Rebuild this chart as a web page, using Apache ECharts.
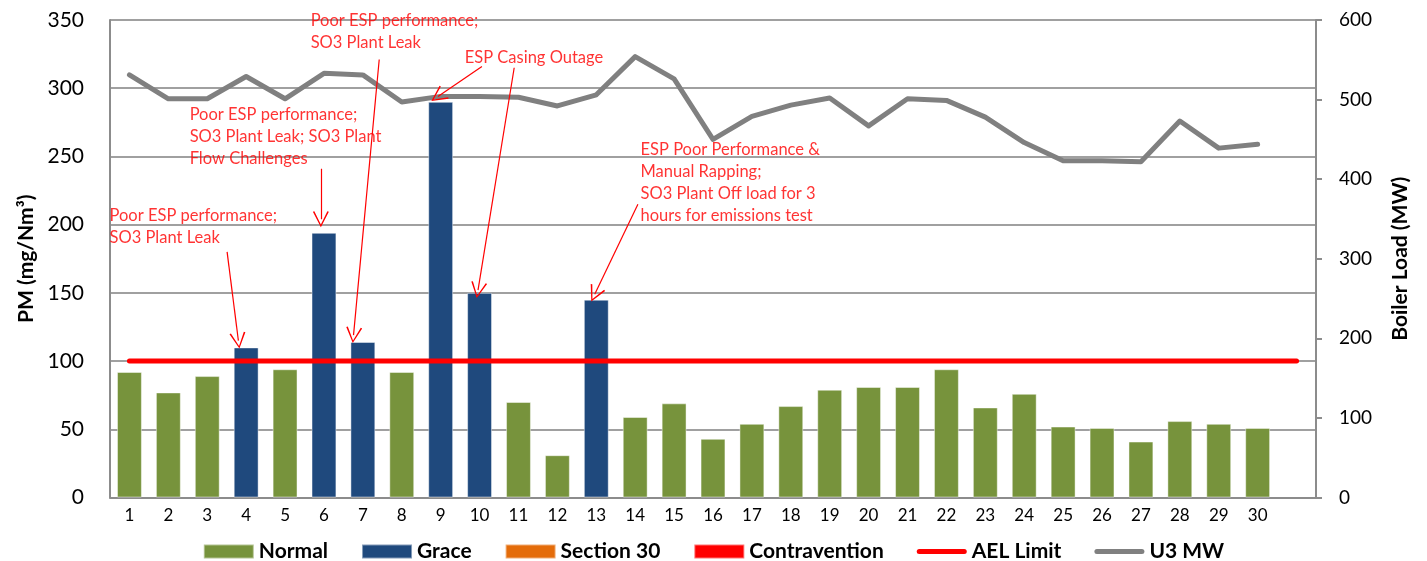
<!DOCTYPE html>
<html>
<head>
<meta charset="utf-8">
<script src="https://cdn.jsdelivr.net/npm/echarts@6/dist/echarts.min.js"></script>
<style>
  html, body { margin: 0; padding: 0; background: #fff; }
  #chart { width: 1427px; height: 561px; }
</style>
</head>
<body>
<div id="chart"></div>
<script>
// ---- data ----
const categories = ['1','2','3','4','5','6','7','8','9','10','11','12','13','14','15','16','17','18','19','20','21','22','23','24','25','26','27','28','29','30',''];
const normal =        [92, 77, 89, null, 94, null, null, 92, null, null, 70, 31, null, 59, 69, 43, 54, 67, 79, 81, 81, 94, 66, 76, 52, 51, 41, 56, 54, 51];
const grace =         [null, null, null, 110, null, 194, 114, null, 290, 150, null, null, 145, null, null, null, null, null, null, null, null, null, null, null, null, null, null, null, null, null];
const section30 =     [null, null, null, null, null, null, null, null, null, null, null, null, null, null, null, null, null, null, null, null, null, null, null, null, null, null, null, null, null, null];
const contravention = [null, null, null, null, null, null, null, null, null, null, null, null, null, null, null, null, null, null, null, null, null, null, null, null, null, null, null, null, null, null];
const aelLimit =      [100, 100, 100, 100, 100, 100, 100, 100, 100, 100, 100, 100, 100, 100, 100, 100, 100, 100, 100, 100, 100, 100, 100, 100, 100, 100, 100, 100, 100, 100, 100];
const u3MW =          [531, 501, 501, 529, 501, 533, 531, 497, 504, 504, 503, 492, 506, 554, 526, 450, 479, 493, 502, 467, 501, 499, 478, 446, 423, 423, 422, 473, 439, 444];

// annotation texts, anchored (top-left) at [day position, PM value]
const noteTexts = [
  'Poor ESP performance;\nSO3 Plant Leak',
  'Poor ESP performance;\nSO3 Plant Leak; SO3 Plant\nFlow Challenges',
  'Poor ESP performance;\nSO3 Plant Leak',
  'ESP Casing Outage',
  'ESP Poor Performance &\nManual Rapping;\nSO3 Plant Off load for 3\nhours for emissions test'
];
const noteAnchors = [[0.5, 214], [2.56, 288], [5.67, 357], [9.63, 330], [14.15, 263]];
// annotation arrows: [from, to] in [day position, PM value]
const arrowFrom = [[3.51, 180], [5.92, 241], [7.42, 321], [10.06, 316], [10.89, 315], [14.07, 215]];
const arrowTo   = [[3.80, 115], [5.92, 204], [6.76, 119], [8.93, 294], [9.96, 152], [12.96, 149]];

const FONT = 'Lato';
const chevron = 'path://M7,0 L14,15 L12.7,15.6 L7,2.6 L1.3,15.6 L0,15 Z';
const lineIcon = 'path://M2.5,0 L47.5,0 A2.5,2.5 0 0 1 47.5,5 L2.5,5 A2.5,2.5 0 0 1 2.5,0 Z';

const chart = echarts.init(document.getElementById('chart'), null, { renderer: 'canvas' });
const barCommon = {
  type: 'bar', stack: 'pm', barWidth: '64%',
  itemStyle: { borderColor: 'rgba(255,255,255,0.45)', borderWidth: 1 }
};
chart.setOption({
  animation: false,
  textStyle: { fontFamily: FONT },
  grid: { left: 110, right: 111, top: 20, bottom: 63.5, containLabel: false },
  legend: {
    left: 'center', top: 536,
    itemWidth: 50, itemHeight: 14, itemGap: 33,
    textStyle: { fontFamily: FONT, fontWeight: 'bold', fontSize: 21, color: '#000' },
    data: [
      { name: 'Normal', icon: 'rect' },
      { name: 'Grace', icon: 'rect' },
      { name: 'Section 30', icon: 'rect' },
      { name: 'Contravention', icon: 'rect' },
      { name: 'AEL Limit', icon: lineIcon },
      { name: 'U3 MW', icon: lineIcon }
    ]
  },
  xAxis: [
    {
      type: 'category', data: categories, boundaryGap: true,
      axisLine: { lineStyle: { color: '#8c8c8c', width: 2 } },
      axisTick: { alignWithLabel: true, length: 6, lineStyle: { color: '#8c8c8c', width: 2 } },
      axisLabel: { color: '#000', fontSize: 17, fontFamily: FONT, margin: 10, interval: 0 },
      splitLine: { show: false }
    },
    { type: 'value', min: 0.5, max: 31.5, show: false }
  ],
  yAxis: [
    {
      type: 'value', min: 0, max: 350, interval: 50, position: 'left',
      name: 'PM (mg/Nm³)', nameLocation: 'middle', nameRotate: 90, nameGap: 71,
      nameTextStyle: { fontFamily: FONT, fontWeight: 'bold', fontSize: 21, color: '#000' },
      axisLine: { show: true, lineStyle: { color: '#8c8c8c', width: 2 } },
      axisTick: { show: false },
      axisLabel: { color: '#000', fontSize: 21, fontFamily: FONT, margin: 26 },
      splitLine: { lineStyle: { color: '#a0a0a0', width: 2 } }
    },
    {
      type: 'value', min: 0, max: 600, interval: 100, position: 'right',
      name: 'Boiler Load (MW)', nameLocation: 'middle', nameRotate: 90, nameGap: 74,
      nameTextStyle: { fontFamily: FONT, fontWeight: 'bold', fontSize: 21, color: '#000' },
      axisLine: { show: true, lineStyle: { color: '#8c8c8c', width: 2 } },
      axisTick: { show: true, inside: false, length: 6, lineStyle: { color: '#8c8c8c', width: 2 } },
      axisLabel: { color: '#000', fontSize: 19, fontFamily: FONT, margin: 23 },
      splitLine: { show: false }
    }
  ],
  series: [
    Object.assign({}, barCommon, { name: 'Normal', data: normal, itemStyle: Object.assign({}, barCommon.itemStyle, { color: '#77933C' }) }),
    Object.assign({}, barCommon, { name: 'Grace', data: grace, itemStyle: Object.assign({}, barCommon.itemStyle, { color: '#1F497D' }) }),
    Object.assign({}, barCommon, { name: 'Section 30', data: section30, itemStyle: Object.assign({}, barCommon.itemStyle, { color: '#E46C0A' }) }),
    Object.assign({}, barCommon, { name: 'Contravention', data: contravention, itemStyle: Object.assign({}, barCommon.itemStyle, { color: '#FF0000' }) }),
    {
      name: 'AEL Limit', type: 'line', data: aelLimit, yAxisIndex: 0,
      symbol: 'none', showSymbol: false,
      lineStyle: { color: '#FF0000', width: 5, cap: 'round' }, itemStyle: { color: '#FF0000' }
    },
    {
      name: 'U3 MW', type: 'line', data: u3MW, yAxisIndex: 1,
      symbol: 'none', showSymbol: false,
      lineStyle: { color: '#808080', width: 5, cap: 'round', join: 'round' }, itemStyle: { color: '#808080' }
    },
    {
      name: 'notes', type: 'scatter', xAxisIndex: 1, yAxisIndex: 0, clip: false,
      symbolSize: 1, itemStyle: { color: 'rgba(0,0,0,0)' }, silent: true,
      data: noteTexts.map((t, i) => ({ name: t, value: noteAnchors[i] })),
      label: {
        show: true, position: [0, 0], align: 'left', verticalAlign: 'top',
        formatter: p => p.name, color: '#FF0000', fontFamily: FONT, fontSize: 16.5, lineHeight: 22
      },
      z: 10
    },
    {
      name: 'arrows', type: 'lines', coordinateSystem: 'cartesian2d', xAxisIndex: 1, yAxisIndex: 0,
      polyline: false, silent: true,
      symbol: ['none', chevron], symbolSize: [14, 16],
      lineStyle: { color: '#FF0000', width: 1.2, opacity: 1, curveness: 0 },
      data: arrowFrom.map((f, i) => ({ coords: [f, arrowTo[i]] })),
      z: 10
    }
  ]
});
</script>
</body>
</html>
